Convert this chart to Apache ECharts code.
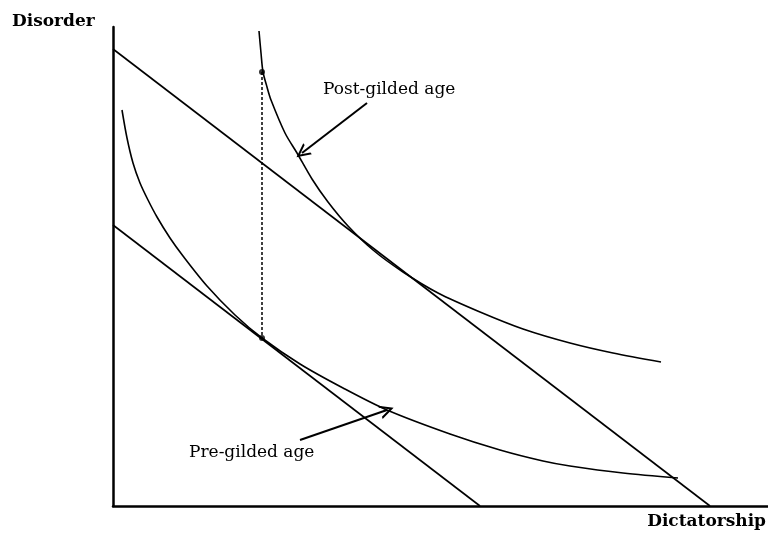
<!DOCTYPE html>
<html>
<head>
<meta charset="utf-8">
<script src="https://cdn.jsdelivr.net/npm/echarts@6/dist/echarts.min.js"></script>
<style>
  html, body { margin: 0; padding: 0; background: #fff; }
  #chart { width: 768px; height: 533px; }
</style>
</head>
<body>
<div id="chart"></div>
<script>
// values are in plot units (x: dictatorship, y: disorder)
var upperBudget = [[0, 457], [597, 0]];
var lowerBudget = [[0, 281], [367, 0]];

var postGilded = [
  [146, 475], [148, 453], [150, 434], [154, 419], [158, 406], [172, 373],
  [184, 353], [199, 327], [215, 304], [235, 280], [260, 256], [290, 234],
  [325, 213], [367, 194], [410, 177], [457, 163], [500, 153], [548, 144]
];
var preGilded = [
  [9, 396], [14, 368], [20, 343], [27, 323], [35, 306], [44, 289],
  [57, 268], [70, 250], [94, 220], [122, 191], [149, 168], [187, 142],
  [230, 118], [274, 96], [337, 72], [387, 56], [430, 45], [457, 40],
  [510, 33], [565, 28]
];

var dropLine = [[149, 434], [149, 168]];
var postArrow = [[254, 403], [189, 353]];
var preArrow = [[187, 66], [274, 96]];

var chevron = 'path://M5,0 L10,10 L8.4,10 L5,3.2 L1.6,10 L0,10 Z';
var serif = '"DejaVu Serif", "Liberation Serif", serif';

var chart = echarts.init(document.getElementById('chart'));

function plainLine(data, extra) {
  var s = {
    type: 'line',
    data: data,
    symbol: 'none',
    silent: true,
    lineStyle: { color: '#000', width: 1.6 }
  };
  for (var k in extra) s[k] = extra[k];
  return s;
}

var option = {
  backgroundColor: '#fff',
  animation: false,
  grid: { left: 113, right: 0, top: 27, bottom: 27 },
  xAxis: {
    type: 'value', min: 0, max: 655,
    axisLine: { lineStyle: { color: '#000', width: 2.5 } },
    axisTick: { show: false }, axisLabel: { show: false }, splitLine: { show: false }
  },
  yAxis: {
    type: 'value', min: 0, max: 479,
    axisLine: { show: true, lineStyle: { color: '#000', width: 2.5 } },
    axisTick: { show: false }, axisLabel: { show: false }, splitLine: { show: false }
  },
  series: [
    plainLine(upperBudget),
    plainLine(lowerBudget),
    plainLine(postGilded, { smooth: 0.3 }),
    plainLine(preGilded, { smooth: 0.3 }),
    plainLine(dropLine, { lineStyle: { color: '#000', width: 1.5, type: [3, 2] } }),
    {
      type: 'scatter',
      data: [dropLine[0], dropLine[1]],
      symbolSize: 6,
      itemStyle: { color: '#000' },
      silent: true
    },
    {
      type: 'lines',
      coordinateSystem: 'cartesian2d',
      data: [{ coords: postArrow }, { coords: preArrow }],
      symbol: ['none', chevron],
      symbolSize: 14,
      lineStyle: { color: '#000', width: 2, opacity: 1 },
      silent: true
    }
  ],
  graphic: [
    { type: 'text', left: 12, top: 13,
      style: { text: 'Disorder', font: 'bold 17px ' + serif, fill: '#000' } },
    { type: 'text', right: 2, top: 513,
      style: { text: 'Dictatorship', font: 'bold 17px ' + serif, fill: '#000' } },
    { type: 'text', left: 323, top: 81,
      style: { text: 'Post-gilded age', font: '17px ' + serif, fill: '#000' } },
    { type: 'text', left: 189, top: 444,
      style: { text: 'Pre-gilded age', font: '17px ' + serif, fill: '#000' } }
  ]
};

chart.setOption(option);
</script>
</body>
</html>
